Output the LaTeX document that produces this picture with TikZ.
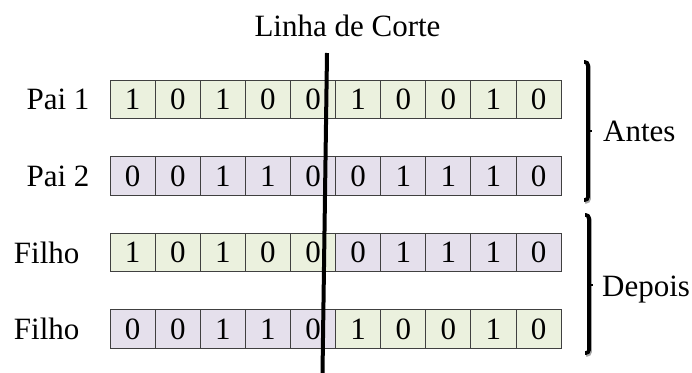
\documentclass[tikz,border=0pt]{standalone}
\usepackage{fontspec}
\setmainfont{Liberation Serif}
\usetikzlibrary{matrix}
\usetikzlibrary{positioning}

\definecolor{verdeclaro}{HTML}{EBF1DE}
\definecolor{lilasclaro}{HTML}{E5E0EC}
\definecolor{borda}{HTML}{404040}

\begin{document}
\begin{tikzpicture}
[
	x								= 1pt,
	y								= -1pt,
	every node/.style				= {font = \fontsize{31}{36}\selectfont},
	%
	% fill of the cells
	verde/.style					= {fill = verdeclaro},
	lilas/.style					= {fill = lilasclaro},
	gene/.style						=
	{
		draw						= borda,
		line width					= 0.9pt,
		minimum width				= 45.1pt,
		minimum height				= 38.5pt,
		inner sep					= 0pt,
		anchor						= center
	},
	every odd row/.style			= {nodes = {verde}},
	every even row/.style			= {nodes = {lilas}},
	%
	row sep							= {76.5pt,between origins},
	column sep						= {45.1pt,between origins},
	%
	rotulo/.style					= {inner sep = 0pt},
	corte/.style					= {line width = 4pt},
	chave/.style					= {line width = 3.6pt, rounded corners = 3pt},
	sombra/.style					= {chave, draw = black!35, shift = {(1,1.8)}},
]
	\useasboundingbox (0,0) rectangle (692,372);

	\matrix (cromo)
	[
		matrix of nodes,
		nodes					= {gene},
		anchor					= center,
	] at (335.6,214.2)
	{
		1 & 0 & 1 & 0 & 0 & 1 & 0 & 0 & 1 & 0 \\
		0 & 0 & 1 & 1 & 0 & 0 & 1 & 1 & 1 & 0 \\
		1 & 0 & 1 & 0 & 0 & |[lilas]| 0 & |[lilas]| 1 & |[lilas]| 1 & |[lilas]| 1 & |[lilas]| 0 \\
		0 & 0 & 1 & 1 & 0 & |[verde]| 1 & |[verde]| 0 & |[verde]| 0 & |[verde]| 1 & |[verde]| 0 \\
	};

	\node (pai1) [rotulo, left = 20pt of cromo-1-1] {Pai 1};
	\node (pai2) [rotulo, left = 20pt of cromo-2-1] {Pai 2};
	\node (filho1) [rotulo, left = 30pt of cromo-3-1] {Filho};
	\node (filho2) [rotulo, left = 30pt of cromo-4-1] {Filho};

	% linha de corte
	\coordinate (corteTopo) at (327,53);
	\coordinate (corteBase) at (322.5,373);
	\draw [corte] (corteTopo) -- (corteBase);
	\node (titulo) [rotulo, anchor = base] at (347.5,36) {Linha de Corte};

	% chaves
	\draw [sombra] (584,62) -- (588,62) -- (588,200) -- (584,200);
	\draw [chave] (584,62) -- (588,62) -- (588,200) -- (584,200);
	\draw [line width = 2pt] (588,131) -- (592,131);
	\coordinate (antesMeio) at (592,131);
	\node (antes) [rotulo, right = 11pt of antesMeio] {Antes};

	\draw [sombra] (585,215) -- (589,215) -- (589,353) -- (585,353);
	\draw [chave] (585,215) -- (589,215) -- (589,353) -- (585,353);
	\draw [line width = 2pt] (589,285) -- (593,285);
	\coordinate (depoisMeio) at (593,290);
	\node (depois) [rotulo, right = 9pt of depoisMeio] {Depois};

\end{tikzpicture}
\end{document}
